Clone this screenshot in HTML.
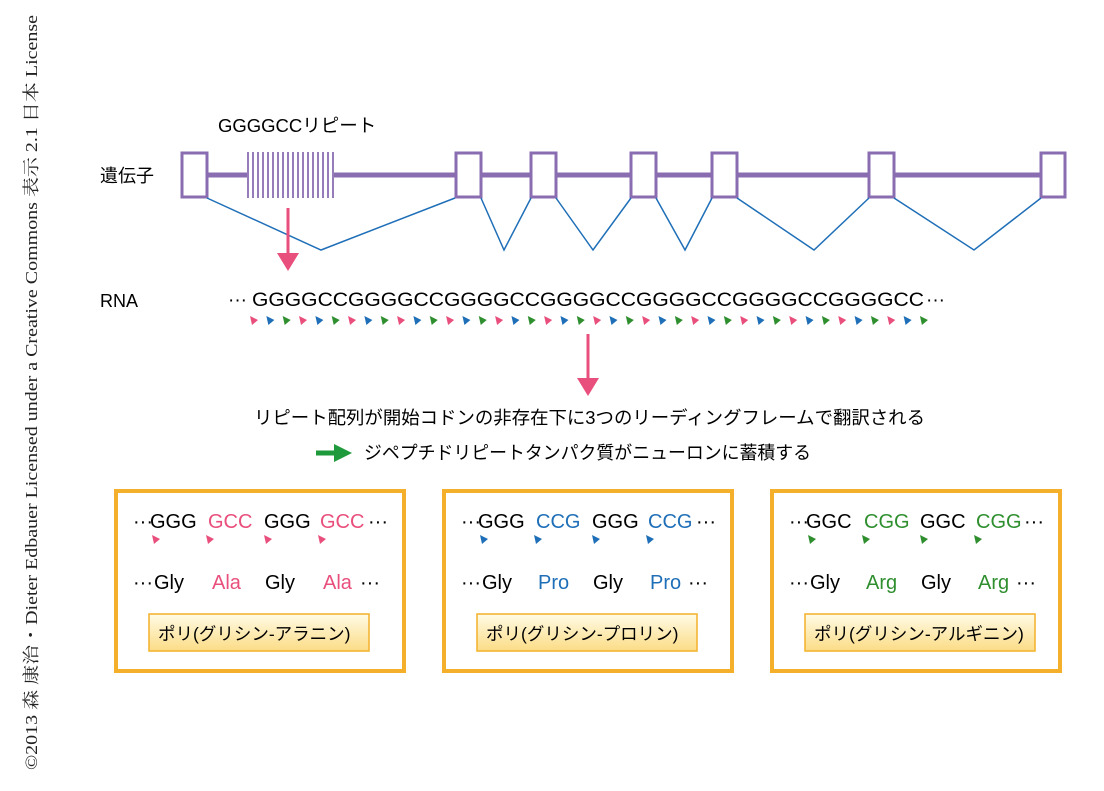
<!DOCTYPE html>
<html><head><meta charset="utf-8"><style>
body{margin:0;background:#fff;width:1104px;height:786px;overflow:hidden}
svg text{font-family:"Liberation Sans","Noto Sans CJK JP",sans-serif}
</style></head><body>
<svg width="1104" height="786" viewBox="0 0 1104 786" xmlns="http://www.w3.org/2000/svg">
<defs><linearGradient id="g" x1="0" y1="0" x2="0" y2="1"><stop offset="0" stop-color="#fffbe6"/><stop offset="1" stop-color="#fbdc86"/></linearGradient></defs>
<text transform="translate(37,770) rotate(-90)" font-size="17" style="font-family:'Liberation Serif','Noto Serif CJK SC',serif" textLength="755" lengthAdjust="spacingAndGlyphs" fill="#222">©2013 森 康治・Dieter Edbauer Licensed under a Creative Commons 表示 2.1 日本 License</text>
<text x="218" y="132" font-size="18.5">GGGGCCリピート</text>
<text x="100" y="182" font-size="18">遺伝子</text>
<line x1="194" y1="175" x2="1052" y2="175" stroke="#8a6db0" stroke-width="5"/>
<g fill="#fff" stroke="#8a6db0" stroke-width="3">
<rect x="182" y="153" width="25" height="44"/><rect x="456" y="153" width="25" height="44"/><rect x="531" y="153" width="25" height="44"/><rect x="631" y="153" width="25" height="44"/><rect x="712" y="153" width="25" height="44"/><rect x="869" y="153" width="25" height="44"/><rect x="1041" y="153" width="24" height="44"/>
</g>
<rect x="247" y="153" width="87" height="44" fill="#fff"/>
<g stroke="#8a6db0" stroke-width="1.8">
<line x1="248" y1="152" x2="248" y2="198"/><line x1="253" y1="152" x2="253" y2="198"/><line x1="258" y1="152" x2="258" y2="198"/><line x1="263" y1="152" x2="263" y2="198"/><line x1="268" y1="152" x2="268" y2="198"/><line x1="273" y1="152" x2="273" y2="198"/><line x1="278" y1="152" x2="278" y2="198"/><line x1="283" y1="152" x2="283" y2="198"/><line x1="288" y1="152" x2="288" y2="198"/><line x1="293" y1="152" x2="293" y2="198"/><line x1="298" y1="152" x2="298" y2="198"/><line x1="303" y1="152" x2="303" y2="198"/><line x1="308" y1="152" x2="308" y2="198"/><line x1="313" y1="152" x2="313" y2="198"/><line x1="318" y1="152" x2="318" y2="198"/><line x1="323" y1="152" x2="323" y2="198"/><line x1="328" y1="152" x2="328" y2="198"/><line x1="333" y1="152" x2="333" y2="198"/>
</g>
<polyline fill="none" stroke="#1f6fb8" stroke-width="1.5" points="207,198 321,250 455,198"/>
<polyline fill="none" stroke="#1f6fb8" stroke-width="1.5" points="481,198 504,250 531,198"/>
<polyline fill="none" stroke="#1f6fb8" stroke-width="1.5" points="556,198 593,250 631,198"/>
<polyline fill="none" stroke="#1f6fb8" stroke-width="1.5" points="656,198 685,250 712,198"/>
<polyline fill="none" stroke="#1f6fb8" stroke-width="1.5" points="737,198 814,250 869,198"/>
<polyline fill="none" stroke="#1f6fb8" stroke-width="1.5" points="894,198 974,250 1041,198"/>
<line x1="288" y1="208" x2="288" y2="256" stroke="#e94f7c" stroke-width="3"/>
<polygon points="277,253 299,253 288,271" fill="#e94f7c"/>
<line x1="588" y1="334" x2="588" y2="381" stroke="#e94f7c" stroke-width="3"/>
<polygon points="577,378 599,378 588,396" fill="#e94f7c"/>
<text x="100" y="307" font-size="18">RNA</text>
<text x="228" y="306" font-size="19">···</text>
<text x="252" y="306" font-size="19.5" textLength="672" lengthAdjust="spacingAndGlyphs">GGGGCCGGGGCCGGGGCCGGGGCCGGGGCCGGGGCCGGGGCC</text>
<text x="926" y="306" font-size="19">···</text>
<g id="tri"></g>
<text x="254" y="424" font-size="18.4" textLength="671" lengthAdjust="spacingAndGlyphs">リピート配列が開始コドンの非存在下に3つのリーディングフレームで翻訳される</text>
<line x1="316" y1="453" x2="336" y2="453" stroke="#1e9a3c" stroke-width="5"/>
<polygon points="334,444 352,453 334,462" fill="#1e9a3c"/>
<text x="364" y="459" font-size="18.4" textLength="447" lengthAdjust="spacingAndGlyphs">ジペプチドリピートタンパク質がニューロンに蓄積する</text>
<g fill="none" stroke="#f4b02a" stroke-width="4">
<rect x="116" y="491" width="288" height="180"/><rect x="444" y="491" width="288" height="180"/><rect x="772" y="491" width="288" height="180"/>
</g>
<g font-size="20">
<text x="133" y="528">···</text><text x="150" y="528">GGG</text><text x="208" y="528" fill="#e94f7c">GCC</text><text x="264" y="528">GGG</text><text x="320" y="528" fill="#e94f7c">GCC</text><text x="368" y="528">···</text>
<text x="133" y="589">···</text><text x="154" y="589">Gly</text><text x="212" y="589" fill="#e94f7c">Ala</text><text x="265" y="589">Gly</text><text x="323" y="589" fill="#e94f7c">Ala</text><text x="360" y="589">···</text>
<text x="461" y="528">···</text><text x="478" y="528">GGG</text><text x="536" y="528" fill="#1f6fb8">CCG</text><text x="592" y="528">GGG</text><text x="648" y="528" fill="#1f6fb8">CCG</text><text x="696" y="528">···</text>
<text x="461" y="589">···</text><text x="482" y="589">Gly</text><text x="538" y="589" fill="#1f6fb8">Pro</text><text x="593" y="589">Gly</text><text x="650" y="589" fill="#1f6fb8">Pro</text><text x="688" y="589">···</text>
<text x="789" y="528">···</text><text x="806" y="528">GGC</text><text x="864" y="528" fill="#2f8f2f">CGG</text><text x="920" y="528">GGC</text><text x="976" y="528" fill="#2f8f2f">CGG</text><text x="1024" y="528">···</text>
<text x="789" y="589">···</text><text x="810" y="589">Gly</text><text x="866" y="589" fill="#2f8f2f">Arg</text><text x="921" y="589">Gly</text><text x="978" y="589" fill="#2f8f2f">Arg</text><text x="1016" y="589">···</text>
</g>
<g fill="url(#g)" stroke="#f4b02a" stroke-width="1.5">
<rect x="149" y="614" width="220" height="37"/><rect x="477" y="614" width="220" height="37"/><rect x="805" y="614" width="230" height="37"/>
</g>
<g font-size="17.5">
<text x="158" y="640">ポリ(グリシン-アラニン)</text>
<text x="486" y="640">ポリ(グリシン-プロリン)</text>
<text x="814" y="640">ポリ(グリシン-アルギニン)</text>
</g>
<g fill="#e94f7c"><polygon points="152,535 160,539 154,544"/><polygon points="206,535 214,539 208,544"/><polygon points="264,535 272,539 266,544"/><polygon points="318,535 326,539 320,544"/></g>
<g fill="#1f6fb8"><polygon points="480,535 488,539 482,544"/><polygon points="534,535 542,539 536,544"/><polygon points="592,535 600,539 594,544"/><polygon points="646,535 654,539 648,544"/></g>
<g fill="#2f8f2f"><polygon points="808,535 816,539 810,544"/><polygon points="862,535 870,539 864,544"/><polygon points="920,535 928,539 922,544"/><polygon points="974,535 982,539 976,544"/></g>
</svg>
<script>
var g=document.getElementById('tri'),c=['#e94f7c','#1f6fb8','#2f8f2f'],s='';
for(var i=0;i<42;i++){var x=250+i*16.34;s+='<polygon points="'+x+',316 '+(x+8)+',320 '+(x+2)+',325" fill="'+c[i%3]+'"/>';}
g.innerHTML=s;
</script>
</body></html>
